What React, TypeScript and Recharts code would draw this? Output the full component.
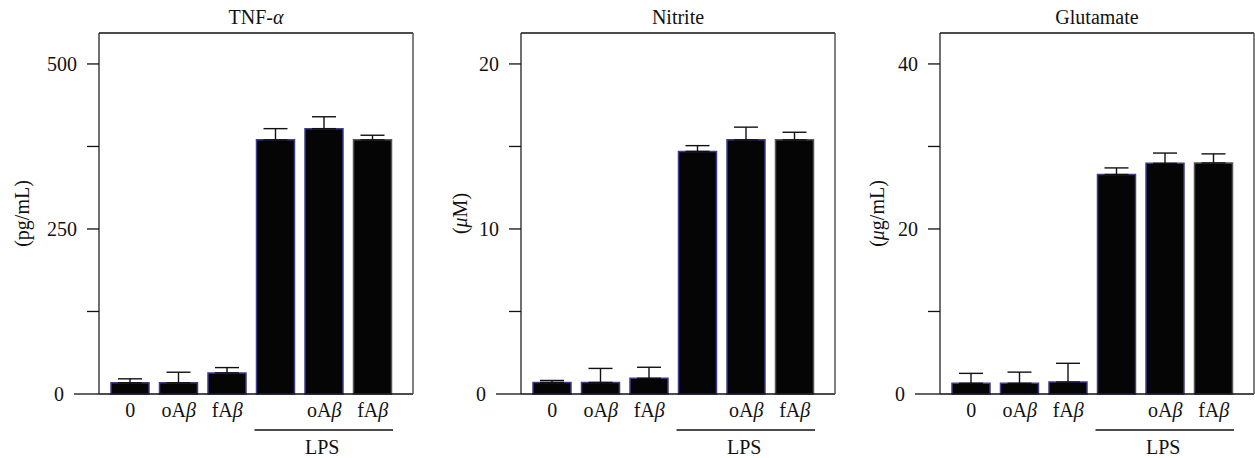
import { Bar, BarChart, Cell, ErrorBar, XAxis, YAxis } from "recharts";

const groups = ["0", "oAβ", "fAβ", "", "oAβ", "fAβ"];
const treatment = ["", "", "", "LPS", "LPS", "LPS"];

const tnfValues = [17, 17, 32, 385, 402, 385];
const tnfErrors = [6, 16, 8, 17, 18, 7];
const tnfTicks = [0, 125, 250, 375, 500];

const nitriteValues = [0.7, 0.7, 0.95, 14.7, 15.4, 15.4];
const nitriteErrors = [0.12, 0.85, 0.67, 0.35, 0.77, 0.46];
const nitriteTicks = [0, 5, 10, 15, 20];

const glutamateValues = [1.3, 1.3, 1.45, 26.6, 27.95, 28.0];
const glutamateErrors = [1.2, 1.35, 2.27, 0.8, 1.25, 1.1];
const glutamateTicks = [0, 10, 20, 30, 40];

const FONT = '"Liberation Serif", "Times New Roman", serif';
const FS = 20;
const INK = "#111";
const W = 416;
const H = 458;
const PAD = { left: 7, right: 16 };
const STEP = (314 - PAD.left - PAD.right) / groups.length;

// greek letters are set in italic
function rich(text: string) {
  return text
    .split(/([α-ω])/)
    .filter(Boolean)
    .map((s, k) =>
      /[α-ω]/.test(s) ? (
        <tspan key={k} fontStyle="italic">{s}</tspan>
      ) : (
        <tspan key={k}>{s}</tspan>
      )
    );
}

function Title({ viewBox, text }: any) {
  return (
    <text x={viewBox.x + viewBox.width / 2} y={viewBox.y - 8} textAnchor="middle" fontFamily={FONT} fontSize={FS} fill={INK}>
      {rich(text)}
    </text>
  );
}

function UnitLabel({ viewBox, text, gap }: any) {
  const cx = viewBox.x + viewBox.width - gap;
  const cy = viewBox.y + viewBox.height / 2;
  return (
    <text x={cx} y={cy} dy="0.35em" textAnchor="middle" transform={`rotate(-90 ${cx} ${cy})`} fontFamily={FONT} fontSize={FS} fill={INK}>
      {rich(text)}
    </text>
  );
}

function ValueTick({ x, y, payload, ticks }: any) {
  const zero = payload.value === 0;
  const len = zero ? 25 : 12;
  const show = ticks.indexOf(payload.value) % 2 === 0;
  return (
    <g>
      <line x1={x - len} x2={x} y1={y} y2={y} stroke={INK} strokeWidth={1.3} />
      {show && (
        <text x={x - len - 10} y={y} dy="0.35em" textAnchor="end" fontFamily={FONT} fontSize={FS} fill={INK}>
          {payload.value}
        </text>
      )}
    </g>
  );
}

function GroupTick({ x, y, payload }: any) {
  const i = payload.value;
  const members = treatment.map((t, k) => (t ? k : -1)).filter((k) => k >= 0);
  const mid = members[Math.floor(members.length / 2)];
  return (
    <g>
      <text x={x} y={y} dy="0.71em" textAnchor="middle" fontFamily={FONT} fontSize={FS} fill={INK}>
        {rich(groups[i])}
      </text>
      {i === mid && (
        <g>
          <line x1={x - 1.5 * STEP + 3} x2={x + 1.5 * STEP - 4} y1={y + 27} y2={y + 27} stroke={INK} strokeWidth={1.3} />
          <text x={x - 2} y={y + 51} textAnchor="middle" fontFamily={FONT} fontSize={FS} fill={INK}>
            {treatment[i]}
          </text>
        </g>
      )}
    </g>
  );
}

function Panel({ title, unit, values, errors, ticks, max, gap, left }: any) {
  const data = groups.map((g, i) => ({ id: i, value: values[i], err: [0, errors[i]] }));
  return (
    <div style={{ position: "absolute", left, top: 0 }}>
      <BarChart width={W} height={H} data={data} margin={{ top: 32, right: 2, bottom: 0, left: 59 }}>
        <XAxis
          xAxisId="top"
          orientation="top"
          dataKey="id"
          height={1}
          padding={PAD}
          tick={false}
          tickLine={false}
          axisLine={{ stroke: INK, strokeWidth: 1.3 }}
          label={<Title text={title} />}
        />
        <XAxis
          dataKey="id"
          height={64}
          padding={PAD}
          interval={0}
          tickLine={false}
          tickSize={0}
          tickMargin={9}
          axisLine={{ stroke: INK, strokeWidth: 1.3 }}
          tick={<GroupTick />}
        />
        <YAxis
          type="number"
          domain={[0, max]}
          ticks={ticks}
          width={40}
          tickLine={false}
          tickSize={0}
          tickMargin={0}
          axisLine={{ stroke: "#222", strokeWidth: 1.3 }}
          tick={(p: any) => <ValueTick {...p} ticks={ticks} />}
          label={<UnitLabel text={unit} gap={gap} />}
        />
        <YAxis
          yAxisId="right"
          orientation="right"
          type="number"
          domain={[0, max]}
          width={1}
          tick={false}
          tickLine={false}
          axisLine={{ stroke: "#555", strokeWidth: 1.5 }}
        />
        <Bar dataKey="value" barSize={38} fill="#050505" strokeWidth={1.5} isAnimationActive={false}>
          {data.map((d, i) => (
            <Cell key={i} stroke={i === data.length - 1 ? "#555" : "#3d3d8f"} />
          ))}
          <ErrorBar dataKey="err" direction="y" width={12} stroke={INK} strokeWidth={1.4} isAnimationActive={false} />
        </Bar>
      </BarChart>
    </div>
  );
}

export default function App() {
  return (
    <div style={{ position: "absolute", left: 0, top: 0, width: 1255, height: 458, background: "#fff" }}>
      <Panel title="TNF-α" unit="(pg/mL)" values={tnfValues} errors={tnfErrors} ticks={tnfTicks} max={546.9} gap={77} left={0} />
      <Panel title="Nitrite" unit="(μM)" values={nitriteValues} errors={nitriteErrors} ticks={nitriteTicks} max={21.875} gap={61} left={422} />
      <Panel title="Glutamate" unit="(μg/mL)" values={glutamateValues} errors={glutamateErrors} ticks={glutamateTicks} max={43.75} gap={63} left={841} />
    </div>
  );
}
